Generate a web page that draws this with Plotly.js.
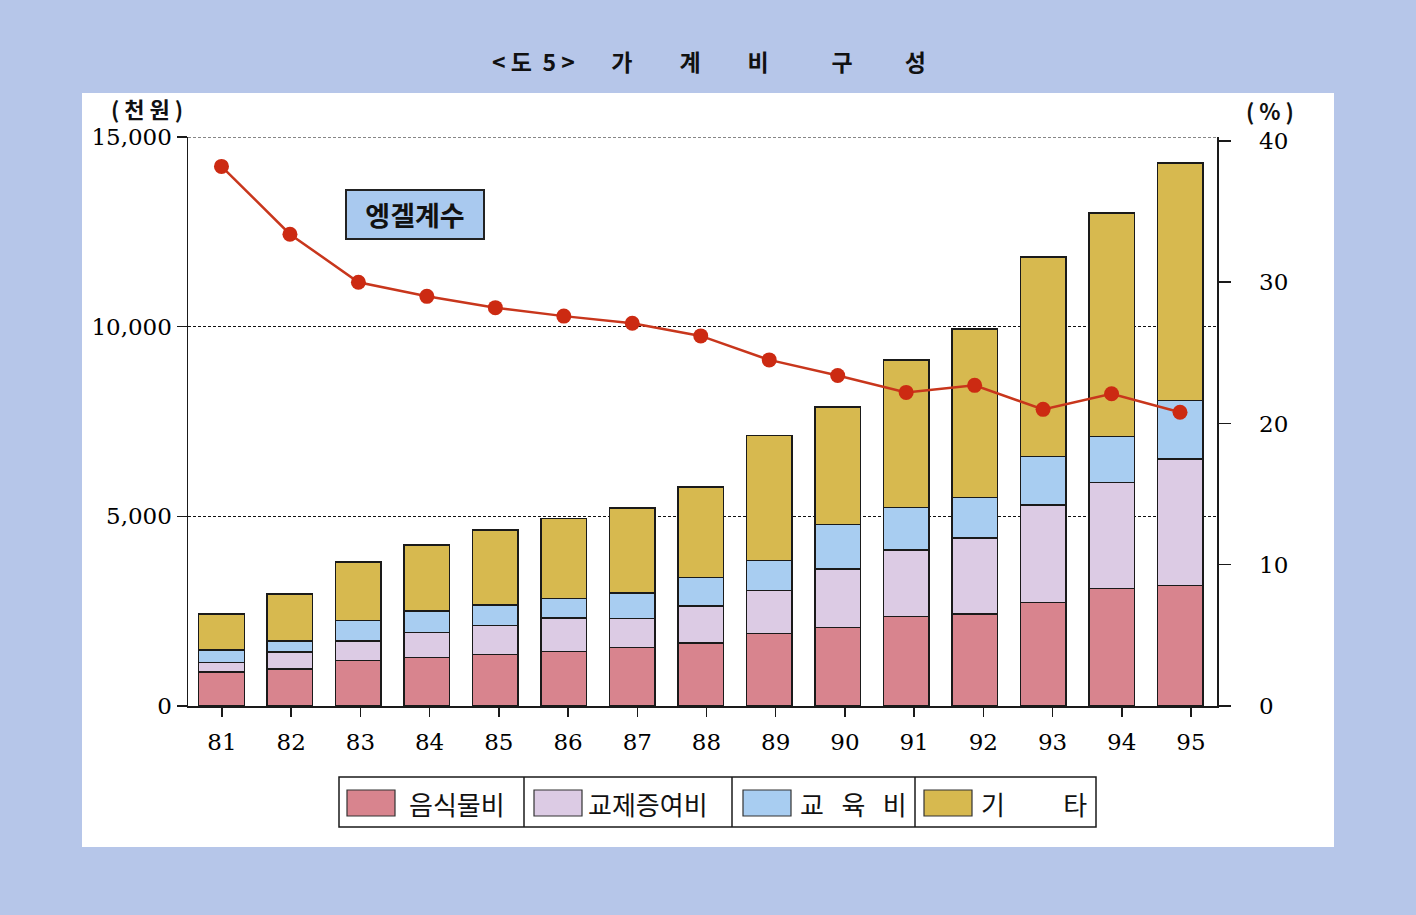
<!DOCTYPE html>
<html>
<head>
<meta charset="utf-8">
<script src="https://cdn.plot.ly/plotly-3.0.1.min.js"></script>
<style>html,body{margin:0;padding:0;background:#b6c6e9;}#chart{width:1416px;height:915px;}</style>
</head>
<body>
<div id="chart"></div>
<script>
// ---- data ----
const years = [81, 82, 83, 84, 85, 86, 87, 88, 89, 90, 91, 92, 93, 94, 95];
const yearLabels = ['81','82','83','84','85','86','87','88','89','90','91','92','93','94','95'];
// 천원
const food  = [900, 975, 1194, 1274, 1363, 1443, 1542, 1660, 1905, 2070, 2355, 2420, 2730, 3095, 3175];   // 음식물비
const gift  = [245, 450, 525, 665, 765, 875, 765, 980, 1135, 1545, 1755, 2005, 2565, 2795, 3330];        // 교제증여비
const edu   = [330, 290, 530, 565, 530, 520, 675, 750, 800, 1170, 1120, 1070, 1285, 1210, 1545];         // 교육비
const other = [945, 1235, 1551, 1736, 1977, 2102, 2240, 2390, 3285, 3102, 3890, 4440, 5260, 5895, 6270]; // 기타
// %
const engel = [38.2, 33.4, 30.0, 29.0, 28.2, 27.6, 27.1, 26.2, 24.5, 23.4, 22.2, 22.7, 21.0, 22.1, 20.8];

const seriesNames = ['음식물비', '교제증여비', '교육비', '기타'];
const NB = n => '\u00A0'.repeat(n);
const legendLabels = ['음식물비', '교제증여비', '교' + NB(3) + '육' + NB(3) + '비', '기' + NB(10) + '타'];
const leftTicks = [0, 5000, 10000, 15000];
const leftTickText = ['0', '5,000', '10,000', '15,000'];
const rightTicks = [0, 10, 20, 30, 40];
const titleText = '&lt;' + NB(1) + '도' + NB(2) + '5' + NB(1) + '&gt;' + NB(7) + '가' + NB(9) + '계' + NB(9) + '비' + NB(12) + '구' + NB(10) + '성';

// ---- styles ----
const colors = ['#d8848e', '#dccbe4', '#a8cdf1', '#d7b94f'];
const seriesData = [food, gift, edu, other];

// plot area in pixels: x 188..1217, y 137..706
const L = 188, R = 1217, T = 137, B = 706;
const px = x => (x - L) / (R - L);
const py = y => (B - y) / (B - T);

const traces = seriesData.map((vals, i) => ({
  type: 'bar', x: years, y: vals, name: seriesNames[i],
  marker: {color: colors[i], line: {color: '#1a1a1a', width: 1.5}},
  width: 0.665, showlegend: false, hoverinfo: 'y+name'
}));
traces.push({
  type: 'scatter', mode: 'lines+markers', x: years, y: engel, yaxis: 'y2', name: '엥겔계수',
  line: {color: '#c8361c', width: 2.5},
  marker: {color: '#cc2a12', size: 15},
  showlegend: false
});
// carrier trace for the tick-label axis
traces.push({
  type: 'scatter', mode: 'markers', x: years, y: years.map(() => null), xaxis: 'x2',
  showlegend: false, hoverinfo: 'skip'
});

const serif = 'DejaVu Serif';
const cjk = 'Noto Sans CJK KR';

const shapes = [
  {type: 'rect', xref: 'paper', yref: 'paper', x0: px(82), x1: px(1334), y0: py(847), y1: py(93),
   fillcolor: '#ffffff', line: {width: 0}, layer: 'below'},
  // top gridline (at the range edge, where the axis grid is not drawn)
  {type: 'line', xref: 'paper', yref: 'y', x0: 0, x1: 1, y0: leftTicks[3], y1: leftTicks[3],
   line: {color: '#111', width: 1, dash: '3px,2px'}, layer: 'below'},
  {type: 'rect', xref: 'paper', yref: 'paper', x0: px(339), x1: px(1096), y0: py(827), y1: py(777),
   fillcolor: 'rgba(0,0,0,0)', line: {color: '#1a1a1a', width: 1.5}}
];
[524, 732, 915].forEach(x => shapes.push({type: 'line', xref: 'paper', yref: 'paper',
  x0: px(x), x1: px(x), y0: py(827), y1: py(777), line: {color: '#1a1a1a', width: 1.5}}));
const swatchX = [347, 534, 743, 924];
const textX = [407, 586, 798, 979];
swatchX.forEach((x, i) => shapes.push({type: 'rect', xref: 'paper', yref: 'paper',
  x0: px(x), x1: px(x + 48), y0: py(816), y1: py(790), fillcolor: colors[i],
  line: {color: '#333', width: 1.2}}));

const annotations = legendLabels.map((t, i) => ({
  xref: 'paper', yref: 'paper', x: px(textX[i]), y: py(803), xanchor: 'left', yanchor: 'middle',
  text: t, showarrow: false, font: {family: cjk, size: 26, color: '#111'}
}));
annotations.push({xref: 'paper', yref: 'paper', x: px(147), y: py(108), xanchor: 'center', yanchor: 'middle',
  text: '(' + NB(1) + '천' + NB(1) + '원' + NB(1) + ')', showarrow: false,
  font: {family: cjk, size: 22, color: '#111', weight: 'bold'}});
annotations.push({xref: 'paper', yref: 'paper', x: px(1270), y: py(110), xanchor: 'center', yanchor: 'middle',
  text: '(' + NB(1) + '%' + NB(1) + ')', showarrow: false,
  font: {family: cjk, size: 22, color: '#111', weight: 'bold'}});
annotations.push({xref: 'paper', yref: 'paper', x: px(415), y: py(214.5), xanchor: 'center', yanchor: 'middle',
  text: '엥겔계수', showarrow: false, bgcolor: '#a9c9ef', bordercolor: '#222', borderwidth: 2,
  width: 134, height: 45, borderpad: 1, font: {family: cjk, size: 27, color: '#111', weight: 'bold'}});

const layout = {
  width: 1416, height: 915,
  margin: {l: L, r: 1416 - R, t: T, b: 915 - B, pad: 0},
  paper_bgcolor: '#b6c6e9', plot_bgcolor: '#ffffff',
  title: {text: titleText,
    x: px(492), xanchor: 'left', xref: 'paper', y: 1 - 63 / 915, yanchor: 'middle',
    font: {family: cjk, size: 23, color: '#111', weight: 'bold'}},
  barmode: 'stack', showlegend: false,
  xaxis: {range: [80.511, 95.540], showticklabels: false, ticks: '', showgrid: false, zeroline: false,
    showline: true, linecolor: '#1a1a1a', linewidth: 1.5, fixedrange: true},
  xaxis2: {overlaying: 'x', side: 'bottom', anchor: 'y', range: [80.509, 95.376],
    tickmode: 'array', tickvals: years, ticktext: yearLabels, ticks: 'outside', ticklen: 10,
    tickcolor: '#1a1a1a', tickwidth: 1.5, showline: false, showgrid: false, zeroline: false,
    ticklabelstandoff: 5, tickfont: {family: serif, size: 23, color: '#000'}},
  yaxis: {range: [0, 15000], tickmode: 'array', tickvals: leftTicks, ticktext: leftTickText,
    ticks: 'outside', ticklen: 10, tickcolor: '#1a1a1a', tickwidth: 1.5,
    showline: true, linecolor: '#1a1a1a', linewidth: 1.5, zeroline: false,
    showgrid: true, gridcolor: '#111', gridwidth: 1, griddash: '3px,2px',
    tickfont: {family: serif, size: 23, color: '#000'}},
  yaxis2: {overlaying: 'y', side: 'right', range: [0, 40.28], tickmode: 'array', tickvals: rightTicks,
    ticks: 'outside', ticklen: 12, tickcolor: '#1a1a1a', tickwidth: 1.5,
    showline: true, linecolor: '#1a1a1a', linewidth: 1.5, zeroline: false, showgrid: false,
    ticklabelstandoff: 24, tickfont: {family: serif, size: 23, color: '#000'}},
  shapes: shapes, annotations: annotations
};

Plotly.newPlot('chart', traces, layout, {displayModeBar: false, staticPlot: true});
</script>
</body>
</html>
